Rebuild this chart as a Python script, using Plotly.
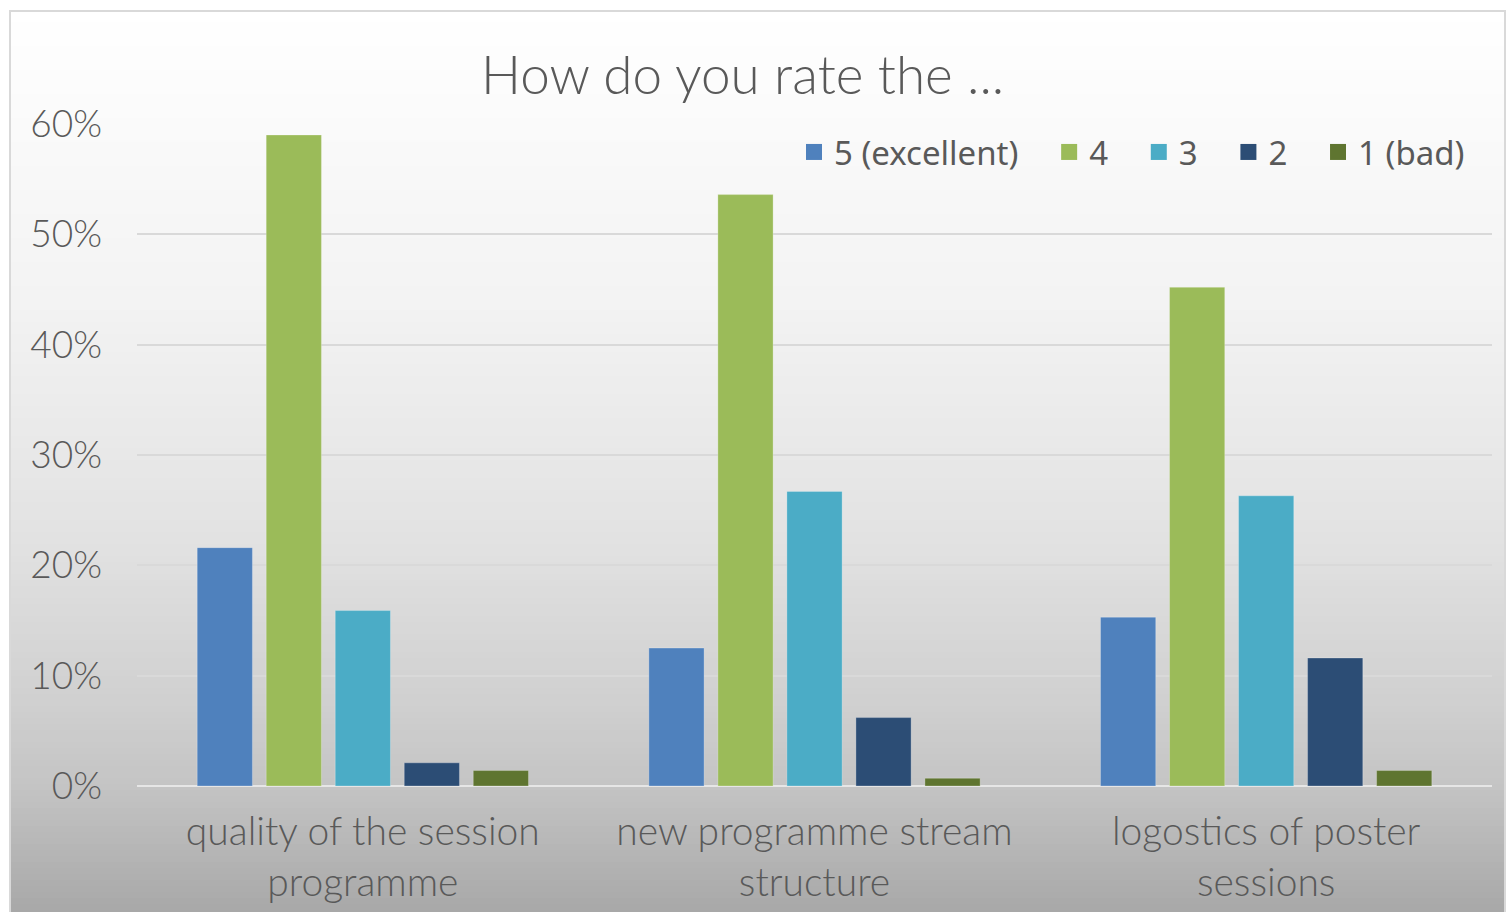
import plotly.graph_objects as go

# Survey results (share of answers)
categories = [
    "quality of the session<br>programme",
    "new programme stream<br>structure",
    "logostics of poster<br>sessions",
]
ratings = ["5 (excellent)", "4", "3", "2", "1 (bad)"]
rating_5 = [0.216, 0.125, 0.153]
rating_4 = [0.590, 0.536, 0.452]
rating_3 = [0.159, 0.267, 0.263]
rating_2 = [0.021, 0.062, 0.116]
rating_1 = [0.014, 0.007, 0.014]
y_ticks = [0, 0.1, 0.2, 0.3, 0.4, 0.5, 0.6]

series = [rating_5, rating_4, rating_3, rating_2, rating_1]
colors = ['#4F81BD', '#9BBB59', '#4BACC6', '#2C4D75', '#5F7530']

W, H = 1506, 912
L, R, T, B = 137, 14, 124, 126
ph = H - T - B
pw = W - L - R


def px_to_paper_y(y):
    return (H - B - y) / ph


def px_to_paper_x(x):
    return (x - L) / pw


fig = go.Figure()
for name, vals, col in zip(ratings, series, colors):
    fig.add_trace(go.Bar(
        x=categories, y=vals, name=name, legendgroup=name, showlegend=False,
        marker=dict(color=col, line=dict(color='rgba(255,255,255,0.25)', width=1)),
    ))
# legend entries with bigger square swatches (extra spacing after the text)
for i, (name, col) in enumerate(zip(ratings, colors)):
    pad = '' if i == len(ratings) - 1 else '\u00a0\u00a0\u00a0'
    fig.add_trace(go.Scatter(
        x=[categories[0]], y=[None], name=name + pad, legendgroup=name,
        mode='markers', marker=dict(symbol='square', size=20, color=col),
        hoverinfo='skip',
    ))

# vertical gray gradient background (stepwise)
stops = [(10, 255), (300, 243), (540, 226), (700, 208), (786, 196), (912, 168)]


def gray_at(y):
    for (y0, g0), (y1, g1) in zip(stops[:-1], stops[1:]):
        if y0 <= y <= y1:
            return g0 + (g1 - g0) * (y - y0) / (y1 - y0)
    return stops[-1][1]


shapes = []
step = 6
y = 10
while y < H:
    g = int(round(gray_at(y + step / 2)))
    shapes.append(dict(
        type='rect', xref='paper', yref='paper', layer='below',
        x0=px_to_paper_x(10), x1=px_to_paper_x(W),
        y0=px_to_paper_y(y), y1=px_to_paper_y(min(y + step + 1, H + 6)),
        fillcolor=f'rgb({g},{g},{g})', line=dict(width=0),
    ))
    y += step
shapes.append(dict(
    type='rect', xref='paper', yref='paper', layer='below',
    x0=px_to_paper_x(10), x1=px_to_paper_x(W - 1),
    y0=px_to_paper_y(11), y1=px_to_paper_y(H + 8),
    fillcolor='rgba(0,0,0,0)', line=dict(color='#D9D9D9', width=2),
))

light = dict(family='Lato', color='#595959', weight=300)

fig.update_layout(
    width=W, height=H,
    margin=dict(l=L, r=R, t=T, b=B),
    paper_bgcolor='white',
    plot_bgcolor='rgba(0,0,0,0)',
    shapes=shapes,
    barmode='group',
    bargap=0.236,
    bargroupgap=0.2,
    showlegend=True,
    legend=dict(
        orientation='h', xanchor='right', yanchor='middle',
        x=px_to_paper_x(1470), y=px_to_paper_y(152),
        font=dict(family='Noto Sans', size=33, color='#595959'),
        bgcolor='rgba(0,0,0,0)', itemwidth=30, tracegroupgap=0,
        itemclick=False, itemdoubleclick=False,
    ),
    annotations=[dict(
        text='How do you rate the ...', xref='paper', yref='paper',
        x=px_to_paper_x(742), y=px_to_paper_y(73),
        xanchor='center', yanchor='middle', showarrow=False,
        font=dict(size=53, **light),
    )],
)

fig.update_yaxes(
    range=[0, 0.6], tickvals=y_ticks, tickformat='.0%', automargin=False,
    showgrid=True, gridcolor='#D9D9D9', gridwidth=2,
    zeroline=True, zerolinecolor='#E6E6E6', zerolinewidth=2,
    showline=False, ticks='', ticklabelstandoff=34,
    tickfont=dict(size=37, **light),
)
fig.update_xaxes(
    automargin=False,
    showline=False, ticks='', ticklabelstandoff=19,
    tickfont=dict(size=39, **light),
)

fig.write_html("out.html", config={'displayModeBar': False},
               post_script="document.body.style.margin='0';")
